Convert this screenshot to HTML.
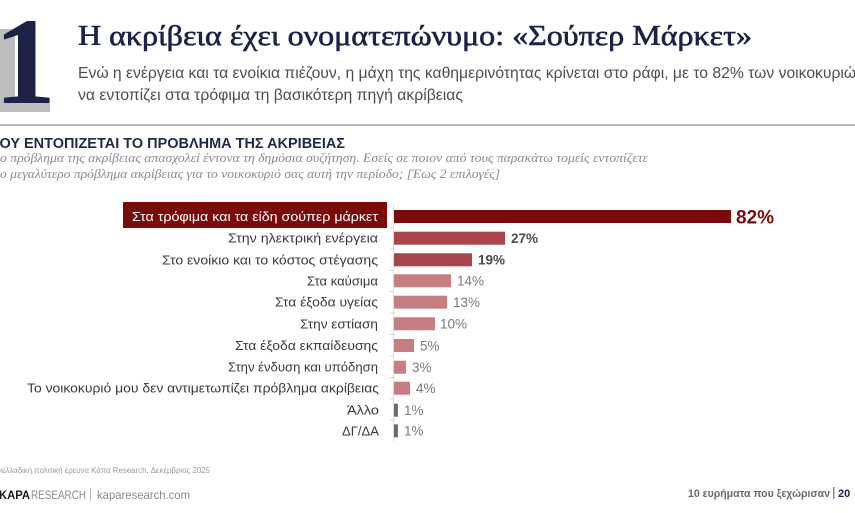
<!DOCTYPE html>
<html>
<head>
<meta charset="utf-8">
<style>
html,body{margin:0;padding:0;background:#fff;}
body{width:855px;height:513px;overflow:hidden;}
svg{display:block;}
</style>
</head>
<body>
<svg width="855" height="513" viewBox="0 0 855 513" xmlns="http://www.w3.org/2000/svg">
<rect width="855" height="513" fill="#ffffff"/>

<!-- Big number 1 with L-shaped shadow -->
<rect x="0" y="29" width="15" height="82" fill="#bdbdbd"/>
<rect x="0" y="103" width="50" height="9" fill="#bdbdbd"/>
<text x="-6" y="103" font-family="Liberation Serif, serif" font-weight="bold" font-size="124" fill="#1c2346">1</text>

<!-- Title -->
<text x="78" y="45" font-family="Liberation Serif, serif" font-size="28" fill="#1c2346" stroke="#1c2346" stroke-width="0.6" textLength="674" lengthAdjust="spacingAndGlyphs">Η ακρίβεια έχει ονοματεπώνυμο: «Σούπερ Μάρκετ»</text>

<!-- Subtitle -->
<text x="78" y="78" font-family="Liberation Sans, sans-serif" font-size="16" fill="#4d4d4d" textLength="786" lengthAdjust="spacingAndGlyphs">Ενώ η ενέργεια και τα ενοίκια πιέζουν, η μάχη της καθημερινότητας κρίνεται στο ράφι, με το 82% των νοικοκυριών</text>
<text x="78" y="100" font-family="Liberation Sans, sans-serif" font-size="16" fill="#4d4d4d" textLength="385" lengthAdjust="spacingAndGlyphs">να εντοπίζει στα τρόφιμα τη βασικότερη πηγή ακρίβειας</text>

<!-- Separator -->
<rect x="0" y="124" width="855" height="2" fill="#b8b8b8"/>

<!-- Section heading -->
<text x="-11" y="148" font-family="Liberation Sans, sans-serif" font-weight="bold" font-size="14.5" fill="#1f2a4a" textLength="356" lengthAdjust="spacingAndGlyphs">ΠΟΥ ΕΝΤΟΠΙΖΕΤΑΙ ΤΟ ΠΡΟΒΛΗΜΑ ΤΗΣ ΑΚΡΙΒΕΙΑΣ</text>

<!-- Question -->
<text x="0" y="162" font-family="Liberation Serif, serif" font-style="italic" font-size="13" fill="#8a8a8a" textLength="648" lengthAdjust="spacingAndGlyphs">ο πρόβλημα της ακρίβειας απασχολεί έντονα τη δημόσια συζήτηση. Εσείς σε ποιον από τους παρακάτω τομείς εντοπίζετε</text>
<text x="0" y="178" font-family="Liberation Serif, serif" font-style="italic" font-size="13" fill="#8a8a8a" textLength="500" lengthAdjust="spacingAndGlyphs">ο μεγαλύτερο πρόβλημα ακρίβειας για το νοικοκυριό σας αυτή την περίοδο; [Έως 2 επιλογές]</text>

<!-- Axis -->
<line x1="393.5" y1="205" x2="393.5" y2="441" stroke="#dcdcdc" stroke-width="1"/>
<g stroke="#d6d6d6" stroke-width="1">
<line x1="390" y1="227.5" x2="393" y2="227.5"/>
<line x1="390" y1="249" x2="393" y2="249"/>
<line x1="390" y1="270.5" x2="393" y2="270.5"/>
<line x1="390" y1="291.5" x2="393" y2="291.5"/>
<line x1="390" y1="313" x2="393" y2="313"/>
<line x1="390" y1="334.5" x2="393" y2="334.5"/>
<line x1="390" y1="356" x2="393" y2="356"/>
<line x1="390" y1="377.5" x2="393" y2="377.5"/>
<line x1="390" y1="399" x2="393" y2="399"/>
<line x1="390" y1="420" x2="393" y2="420"/>
</g>

<!-- Highlight label box -->
<rect x="123" y="202" width="264" height="26" fill="#7b0a0a"/>

<!-- Bars -->
<rect x="394" y="210" width="337" height="13" fill="#7b0a0a"/>
<rect x="394" y="231.7" width="111" height="13" fill="#a9464b"/>
<rect x="394" y="253.3" width="78" height="13" fill="#a9464b"/>
<rect x="394" y="274.3" width="57" height="13" fill="#c77e80"/>
<rect x="394" y="295.7" width="53" height="13" fill="#c77e80"/>
<rect x="394" y="317.3" width="41" height="13" fill="#c77e80"/>
<rect x="394" y="339" width="20" height="13" fill="#c77e80"/>
<rect x="394" y="360.7" width="12" height="13" fill="#c77e80"/>
<rect x="394" y="381.7" width="16" height="13" fill="#c77e80"/>
<rect x="394" y="403.7" width="4" height="13" fill="#6e6e6e"/>
<rect x="394" y="424.3" width="4" height="13" fill="#6e6e6e"/>

<!-- Category labels -->
<g font-family="Liberation Sans, sans-serif" font-size="13" fill="#3a3a3a">
<text x="132" y="221" fill="#ffffff" textLength="246" lengthAdjust="spacingAndGlyphs">Στα τρόφιμα και τα είδη σούπερ μάρκετ</text>
<text x="228" y="242.7" textLength="150" lengthAdjust="spacingAndGlyphs">Στην ηλεκτρική ενέργεια</text>
<text x="162" y="264.3" textLength="216" lengthAdjust="spacingAndGlyphs">Στο ενοίκιο και το κόστος στέγασης</text>
<text x="307" y="285.3" textLength="71" lengthAdjust="spacingAndGlyphs">Στα καύσιμα</text>
<text x="275" y="306.7" textLength="103" lengthAdjust="spacingAndGlyphs">Στα έξοδα υγείας</text>
<text x="300" y="328.3" textLength="78" lengthAdjust="spacingAndGlyphs">Στην εστίαση</text>
<text x="235" y="350" textLength="143" lengthAdjust="spacingAndGlyphs">Στα έξοδα εκπαίδευσης</text>
<text x="228" y="371.7" textLength="150" lengthAdjust="spacingAndGlyphs">Στην ένδυση και υπόδηση</text>
<text x="27" y="392.7" textLength="352" lengthAdjust="spacingAndGlyphs">Το νοικοκυριό μου δεν αντιμετωπίζει πρόβλημα ακρίβειας</text>
<text x="347" y="414.7" textLength="32" lengthAdjust="spacingAndGlyphs">Άλλο</text>
<text x="342" y="435.3" textLength="37" lengthAdjust="spacingAndGlyphs">ΔΓ/ΔΑ</text>
</g>

<!-- Value labels -->
<g font-family="Liberation Sans, sans-serif" font-size="13.5">
<text x="736" y="223.5" font-size="19" font-weight="bold" fill="#7b0a0a">82%</text>
<text x="511" y="243" font-weight="bold" fill="#4a4a4a">27%</text>
<text x="478" y="264.6" font-weight="bold" fill="#4a4a4a">19%</text>
<text x="457" y="285.6" fill="#7a7a7a">14%</text>
<text x="453" y="307" fill="#7a7a7a">13%</text>
<text x="440" y="328.6" fill="#7a7a7a">10%</text>
<text x="420" y="350.3" fill="#7a7a7a">5%</text>
<text x="412" y="372" fill="#7a7a7a">3%</text>
<text x="416" y="393" fill="#7a7a7a">4%</text>
<text x="404" y="415" fill="#7a7a7a">1%</text>
<text x="404" y="435.6" fill="#7a7a7a">1%</text>
</g>

<!-- Footer -->
<text x="-2" y="473" font-family="Liberation Sans, sans-serif" font-size="8" fill="#9a9a9a" textLength="212" lengthAdjust="spacingAndGlyphs">νελλαδική πολιτική έρευνα Κάπα Research, Δεκέμβριος 2025</text>
<text x="-1" y="499" font-family="Liberation Sans, sans-serif" font-size="12" font-weight="bold" fill="#1a1a1a" textLength="31" lengthAdjust="spacingAndGlyphs">KAPA</text>
<text x="31" y="499" font-family="Liberation Sans, sans-serif" font-size="12" fill="#8a8a8a" textLength="55" lengthAdjust="spacingAndGlyphs">RESEARCH</text>
<rect x="90" y="488" width="1" height="13" fill="#bbbbbb"/>
<text x="97" y="499" font-family="Liberation Sans, sans-serif" font-size="12" fill="#8a8a8a" textLength="93" lengthAdjust="spacingAndGlyphs">kaparesearch.com</text>

<text x="688" y="497" font-family="Liberation Sans, sans-serif" font-size="11" font-weight="bold" fill="#6a6a6a" textLength="142" lengthAdjust="spacingAndGlyphs">10 ευρήματα που ξεχώρισαν</text>
<rect x="833" y="487" width="1.5" height="12" fill="#888888"/>
<text x="838" y="497" font-family="Liberation Sans, sans-serif" font-size="11" font-weight="bold" fill="#1c2346">20</text>
</svg>
</body>
</html>
